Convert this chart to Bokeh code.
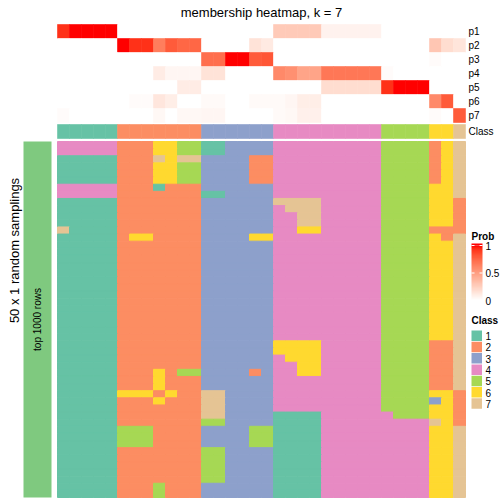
import numpy as np
from bokeh.plotting import figure
from bokeh.models import Range1d, ColumnDataSource, LinearColorMapper
from bokeh.transform import factor_cmap, linear_cmap
from bokeh.core.properties import value
from bokeh.embed import file_html
from bokeh.resources import INLINE

# ---------------- data ----------------
title = "membership heatmap, k = 7"
row_title = "50 x 1 random samplings"
block_label = "top 1000 rows"
classes = ["1", "2", "3", "4", "5", "6", "7"]
class_colors = ["#66C2A5", "#FC8D62", "#8DA0CB", "#E78AC3", "#A6D854", "#FFD92F", "#E5C494"]
prob_names = ["p1", "p2", "p3", "p4", "p5", "p6", "p7"]
prob_ticks = [0, 0.5, 1]
prob_tick_labels = ["0", "0.5", "1"]

# consensus class of each of the 34 samples
consensus_class = "11111 2222222 333333 444444444 5555 66 7"

# membership probabilities (34 samples)
p1 = [0.93, 1, 1, 1, 1, 0, 0, 0, 0, 0, 0, 0, 0, 0, 0, 0, 0, 0,
      0.28, 0.28, 0.28, 0.28, 0.07, 0.07, 0.07, 0.07, 0.07, 0, 0, 0, 0, 0, 0, 0]
p2 = [0, 0, 0, 0, 0, 1, 0.93, 0.93, 0.65, 0.8, 0.75, 0.75, 0, 0, 0, 0, 0.15, 0.11,
      0, 0, 0, 0, 0, 0, 0, 0, 0, 0, 0, 0, 0, 0.3, 0.18, 0.14]
p3 = [0, 0, 0, 0, 0, 0, 0, 0, 0, 0, 0, 0, 0.72, 0.72, 1, 1, 0.8, 0.82,
      0, 0, 0, 0, 0, 0, 0, 0, 0, 0, 0, 0, 0, 0.02, 0, 0]
p4 = [0, 0, 0, 0, 0, 0, 0, 0, 0.1, 0.05, 0.05, 0.05, 0.15, 0.15, 0, 0, 0, 0,
      0.6, 0.57, 0.47, 0.47, 0.68, 0.68, 0.68, 0.68, 0.68, 0.02, 0, 0, 0, 0, 0, 0]
p5 = [0, 0, 0, 0, 0, 0, 0, 0, 0, 0, 0.1, 0.1, 0, 0, 0, 0, 0, 0,
      0, 0, 0, 0, 0.18, 0.18, 0.18, 0.18, 0.18, 0.93, 1, 1, 1, 0, 0, 0]
p6 = [0, 0, 0, 0, 0, 0, 0.02, 0.02, 0.13, 0.09, 0, 0, 0.03, 0.03, 0, 0, 0.03, 0.03,
      0.03, 0.05, 0.09, 0.09, 0, 0, 0, 0, 0, 0, 0, 0, 0, 0.6, 0.8, 0]
p7 = [0.02, 0, 0, 0, 0, 0, 0, 0, 0.04, 0, 0.04, 0.04, 0.05, 0.05, 0, 0, 0, 0,
      0.03, 0.04, 0.08, 0.08, 0, 0, 0, 0, 0, 0, 0, 0, 0, 0.02, 0, 0.8]

# class of each sample in each of the 50 samplings
samplings = [
    "44444 2226655 113333 444444444 5555 26 7",
    "44444 2226655 113333 444444444 5555 26 7",
    "11111 2227677 333322 444444444 5555 26 7",
    "11111 2226655 333322 444444444 5555 26 7",
    "11111 2226655 333322 444444444 5555 26 7",
    "11111 2226655 333322 444444444 5555 26 7",
    "44444 2221222 333333 444444444 5555 66 7",
    "44444 2222222 113333 444444444 5555 66 7",
    "11111 2222222 333333 777744444 5555 66 2",
    "11111 2222222 333333 477744444 5555 66 2",
    "11111 2222222 333333 447744444 5555 66 2",
    "11111 2222222 333333 447744444 5555 66 2",
    "71111 2222222 333333 446644444 5555 22 2",
    "11111 2662222 333366 444444444 5555 62 7",
    "11111 2222222 333333 444444444 5555 66 7",
    "11111 2222222 333333 444444444 5555 66 7",
    "11111 2222222 333333 444444444 5555 66 7",
    "11111 2222222 333333 444444444 5555 66 7",
    "11111 2222222 333333 444444444 5555 66 7",
    "11111 2222222 333333 444444444 5555 66 7",
    "11111 2222222 333333 444444444 5555 66 7",
    "11111 2222222 333333 444444444 5555 66 7",
    "11111 2222222 333333 444444444 5555 66 7",
    "11111 2222222 333333 444444444 5555 66 7",
    "11111 2222222 333333 444444444 5555 66 7",
    "11111 2222222 333333 444444444 5555 66 7",
    "11111 2222222 333333 444444444 5555 66 7",
    "11111 2222222 333333 444444444 5555 66 7",
    "11111 2222222 333333 666644444 5555 22 7",
    "11111 2222222 333333 666644444 5555 22 7",
    "11111 2222222 333333 466644444 5555 22 7",
    "11111 2222222 333333 446644444 5555 22 7",
    "11111 2226255 333323 446644444 5555 22 7",
    "11111 2226222 333333 444444444 5555 22 7",
    "11111 2226222 333333 444444444 5555 22 7",
    "11111 6662622 773333 444444444 5555 66 2",
    "11111 2226222 773333 444444444 5555 36 2",
    "11111 2222222 773333 444444444 5555 66 2",
    "11111 2222222 773333 111144444 4555 66 2",
    "11111 2222222 553333 111144444 4444 76 2",
    "11111 5552222 333355 111144444 4444 66 7",
    "11111 5552222 333355 111144444 4444 66 7",
    "11111 5552222 333355 111144444 4444 66 7",
    "11111 2222222 553333 111144444 4444 66 7",
    "11111 2222222 553333 111144444 4444 66 7",
    "11111 2222222 553333 111144444 4444 66 7",
    "11111 2222222 553333 111144444 4444 66 7",
    "11111 2222222 553333 111144444 4444 66 7",
    "11111 2225222 333333 111144444 4444 66 7",
    "11111 2225222 333333 111144444 4444 66 7",
]

# ---------------- colour scale: white -> red in LAB (like colorRamp2) ----------------
def _lab(rgb):
    c = np.array(rgb, float) / 255.0
    c = np.where(c <= 0.04045, c / 12.92, ((c + 0.055) / 1.055) ** 2.4)
    M = np.array([[0.4124, 0.3576, 0.1805], [0.2126, 0.7152, 0.0722], [0.0193, 0.1192, 0.9505]])
    xyz = M @ c / np.array([0.95047, 1.0, 1.08883])
    d = 6 / 29
    f = np.where(xyz > d ** 3, np.cbrt(xyz), xyz / (3 * d * d) + 4 / 29)
    return np.array([116 * f[1] - 16, 500 * (f[0] - f[1]), 200 * (f[1] - f[2])])

def _rgb(lab):
    L, a, b = lab
    fy = (L + 16) / 116
    fx = fy + a / 500
    fz = fy - b / 200
    d = 6 / 29
    f = np.array([fx, fy, fz])
    xyz = np.where(f > d, f ** 3, 3 * d * d * (f - 4 / 29)) * np.array([0.95047, 1.0, 1.08883])
    Mi = np.array([[3.2406, -1.5372, -0.4986], [-0.9689, 1.8758, 0.0415], [0.0557, -0.2040, 1.0570]])
    c = Mi @ xyz
    c = np.clip(c, 0, 1)
    c = np.where(c <= 0.0031308, 12.92 * c, 1.055 * c ** (1 / 2.4) - 0.055)
    r, g, b2 = (np.clip(np.round(c * 255), 0, 255)).astype(int)
    return "#%02X%02X%02X" % (r, g, b2)

lab_w, lab_r = _lab((255, 255, 255)), _lab((255, 0, 0))
prob_palette = [_rgb(lab_w + (lab_r - lab_w) * t) for t in np.linspace(0, 1, 256)]
prob_mapper = LinearColorMapper(palette=prob_palette, low=0, high=1)

# ---------------- layout (screen pixels) ----------------
W = H = 504
OFF = 0
HM_LEFT, CELL_W = 57, 12
HM_TOP, HM_BOTTOM = 141, 497
n_rows = len(samplings)
n_cols = len(consensus_class.replace(" ", ""))
ROW_H = (HM_BOTTOM - HM_TOP) / n_rows
ANNO_TOP, ANNO_H, CLASS_TOP = 24, 14, 124

p = figure(width=W, height=H, output_backend="svg", toolbar_location=None,
           x_range=Range1d(OFF, OFF + W), y_range=Range1d(-(OFF + H), -OFF),
           x_axis_location=None, y_axis_location=None, min_border=0,
           outline_line_color=None, background_fill_color="white", border_fill_color="white")
p.grid.visible = False
p.extra_x_ranges = {"cols": Range1d((OFF - HM_LEFT) / CELL_W, (OFF + W - HM_LEFT) / CELL_W)}
p.extra_y_ranges = {"rows": Range1d(-(OFF + H - HM_TOP) / ROW_H, (HM_TOP - OFF) / ROW_H)}

FONT = value("Liberation Sans")

# main heatmap
mx, mr, mc = [], [], []
for r, row in enumerate(samplings):
    for c, ch in enumerate(row.replace(" ", "")):
        mx.append(c); mr.append(r); mc.append(ch)
msrc = ColumnDataSource(dict(left=mx, right=[v + 1 for v in mx], top=[-v for v in mr],
                             bottom=[-v - 1 for v in mr], cls=mc))
cmap = factor_cmap("cls", palette=class_colors, factors=classes)
p.quad(left="left", right="right", top="top", bottom="bottom", source=msrc,
       fill_color=cmap, line_color=cmap, line_width=1,
       x_range_name="cols", y_range_name="rows")

# probability annotation
probs = [p1, p2, p3, p4, p5, p6, p7]
ax, at, ab, av = [], [], [], []
for k, vals in enumerate(probs):
    for c, v in enumerate(vals):
        ax.append(c); av.append(v)
        at.append(-(ANNO_TOP + ANNO_H * k)); ab.append(-(ANNO_TOP + ANNO_H * (k + 1)))
asrc = ColumnDataSource(dict(left=ax, right=[v + 1 for v in ax], top=at, bottom=ab, v=av))
pc = linear_cmap("v", prob_palette, 0, 1)
p.quad(left="left", right="right", top="top", bottom="bottom", source=asrc,
       fill_color=pc, line_color=pc, line_width=0.6, x_range_name="cols")

# class annotation
cc = list(consensus_class.replace(" ", ""))
csrc = ColumnDataSource(dict(left=list(range(n_cols)), right=list(range(1, n_cols + 1)),
                             top=[-CLASS_TOP] * n_cols, bottom=[-(CLASS_TOP + ANNO_H)] * n_cols, cls=cc))
p.quad(left="left", right="right", top="top", bottom="bottom", source=csrc,
       fill_color=cmap, line_color=cmap, line_width=0.6, x_range_name="cols")

# annotation names
names = prob_names + ["Class"]
ny = [-(ANNO_TOP + ANNO_H * k + ANNO_H / 2) for k in range(7)] + [-(CLASS_TOP + ANNO_H / 2)]
p.text(x=[468] * len(names), y=ny, text=names, text_font=FONT, text_font_size=value("10px"),
       text_align="left", text_baseline="middle", text_color="black")

# left block
p.quad(left=[23], right=[51], top=[-HM_TOP], bottom=[-HM_BOTTOM], fill_color="#7FC97F", line_color=None)
p.text(x=[37], y=[-(HM_TOP + HM_BOTTOM) / 2], text=[block_label], angle=np.pi / 2,
       text_font=FONT, text_font_size=value("10px"), text_align="center", text_baseline="middle")

# titles
p.text(x=[261], y=[-12], text=[title], text_font=FONT, text_font_size=value("13px"),
       text_align="center", text_baseline="middle")
p.text(x=[14], y=[-250], text=[row_title], angle=np.pi / 2, text_font=FONT,
       text_font_size=value("13px"), text_align="center", text_baseline="middle")

# Prob legend
LX = 471
p.text(x=[LX], y=[-236], text=["Prob"], text_font=FONT, text_font_size=value("10px"),
       text_font_style="bold", text_align="left", text_baseline="middle")
BAR_TOP, BAR_BOT = 245, 300
p.image(image=[np.linspace(0, 1, 100).reshape(100, 1)], x=LX, y=-BAR_BOT, dw=11,
        dh=BAR_BOT - BAR_TOP, color_mapper=prob_mapper)
p.quad(left=[LX], right=[LX + 11], top=[-243], bottom=[-BAR_TOP], fill_color=prob_palette[-1], line_color=None)
ty = [-(BAR_BOT - (BAR_BOT - BAR_TOP) * t) for t in prob_ticks]
p.text(x=[LX + 14] * 3, y=ty, text=prob_tick_labels, text_font=FONT, text_font_size=value("10px"),
       text_align="left", text_baseline="middle")
p.segment(x0=[LX] * 2 + [LX + 8] * 2, x1=[LX + 3] * 2 + [LX + 11] * 2,
          y0=ty[1:] * 2, y1=ty[1:] * 2, line_color="white", line_width=1)

# Class legend
p.text(x=[LX], y=[-320], text=["Class"], text_font=FONT, text_font_size=value("10px"),
       text_font_style="bold", text_align="left", text_baseline="middle")
SQ = 11.3
ltop = [-(330 + SQ * i) for i in range(len(classes))]
p.quad(left=[LX] * 7, right=[LX + 10.5] * 7, top=ltop, bottom=[t - SQ + 0.8 for t in ltop],
       fill_color=class_colors, line_color=None)
p.text(x=[LX + 14] * 7, y=[t - SQ / 2 for t in ltop], text=classes, text_font=FONT,
       text_font_size=value("10px"), text_align="left", text_baseline="middle")

open("out.html", "w").write(file_html(p, INLINE))
